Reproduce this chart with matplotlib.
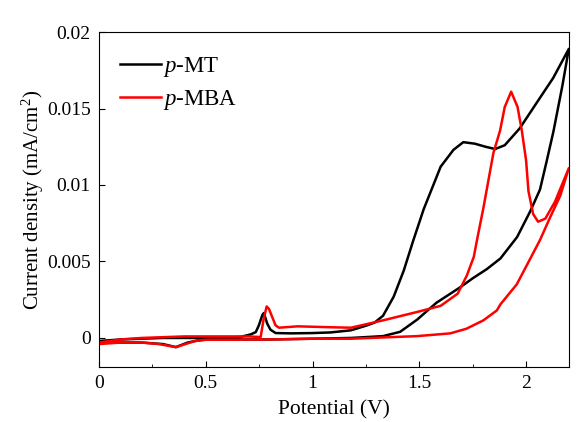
import matplotlib
matplotlib.use("Agg")
import matplotlib.pyplot as plt
from matplotlib.ticker import MultipleLocator, FuncFormatter

plt.rcParams["font.family"] = ["Liberation Serif", "DejaVu Serif"]
plt.rcParams["mathtext.fontset"] = "custom"
plt.rcParams["mathtext.rm"] = "Liberation Serif"
plt.rcParams["mathtext.it"] = "Liberation Serif:italic"

# p-MT, forward then reverse scan (potential V, current density mA/cm2)
mt_v = [0.0, 0.1, 0.2, 0.3, 0.4, 0.5, 0.6, 0.66, 0.71, 0.734, 0.748, 0.765, 0.772,
        0.788, 0.803, 0.827, 0.9, 1.0, 1.084, 1.18, 1.25, 1.29, 1.33, 1.38, 1.427,
        1.47, 1.52, 1.6, 1.66, 1.706, 1.76, 1.81, 1.855, 1.9, 1.97, 2.065, 2.127, 2.2,
        2.17, 2.128, 2.097, 2.065, 2.02, 1.958, 1.88, 1.816, 1.75, 1.69, 1.58, 1.49,
        1.41, 1.33, 1.18, 1.0, 0.8, 0.6, 0.5, 0.45, 0.415, 0.36, 0.3, 0.2, 0.1, 0.0]
mt_j = [-0.0002, -0.0001, -0.00005, 0.0, 0.0, 0.0, 0.00003, 0.00006, 0.00023, 0.00038,
        0.0008, 0.0015, 0.00163, 0.00093, 0.00054, 0.00032, 0.0003, 0.00032, 0.00036,
        0.0005, 0.0008, 0.001, 0.00145, 0.0027, 0.0044, 0.0063, 0.0084, 0.0112, 0.0123,
        0.0128, 0.0127, 0.0125, 0.01235, 0.0126, 0.0137, 0.0157, 0.017, 0.0189,
        0.0165, 0.0135, 0.0116, 0.0097, 0.0083, 0.0066, 0.0052, 0.0045, 0.0039, 0.0033,
        0.0023, 0.0012, 0.0004, 0.00012, 0.0, -0.00005, -0.0001, -0.0001, -0.0001,
        -0.0002, -0.0003, -0.0006, -0.0004, -0.0003, -0.0003, -0.0003]

# p-MBA, forward then reverse scan
mba_v = [0.0, 0.1, 0.2, 0.3, 0.4, 0.5, 0.6, 0.7, 0.757, 0.77, 0.785, 0.796, 0.811,
         0.827, 0.843, 0.93, 1.084, 1.18, 1.33, 1.49, 1.6, 1.68, 1.723, 1.755, 1.77,
         1.8, 1.847, 1.878, 1.9, 1.93, 1.96, 1.98, 2.0, 2.011, 2.033, 2.056, 2.09,
         2.135, 2.2,
         2.16, 2.113, 2.065, 1.99, 1.956, 1.88, 1.863, 1.8, 1.72, 1.645, 1.49, 1.18,
         1.0, 0.8, 0.5, 0.45, 0.36, 0.28, 0.2, 0.1, 0.0]
mba_j = [-0.0003, -0.0001, 0.0, 0.00005, 0.0001, 0.0001, 0.0001, 0.0001, 0.00006,
         0.00115, 0.00206, 0.0019, 0.00137, 0.00082, 0.00067, 0.00076, 0.0007, 0.00067,
         0.00115, 0.0017, 0.0021, 0.0029, 0.0041, 0.0053, 0.0064, 0.0085, 0.0121,
         0.01355, 0.0151, 0.0161, 0.0151, 0.01355, 0.0116, 0.0096, 0.0081, 0.0076,
         0.0078, 0.0089, 0.0111,
         0.0093, 0.0079, 0.0064, 0.0044, 0.0035, 0.0022, 0.0018, 0.00115, 0.0006,
         0.0003, 0.00012, -0.00005, -0.00005, -0.0001, -0.00012, -0.0002, -0.0006,
         -0.0004, -0.0003, -0.0003, -0.0004]

fig = plt.figure(figsize=(5.84, 4.22), dpi=100)
ax = fig.add_axes([0.1695, 0.1303, 0.8045, 0.7938])

ax.plot(mt_v, mt_j, color="black", lw=1.8, label="$p$-MT")
ax.plot(mba_v, mba_j, color="red", lw=1.8, label="$p$-MBA")

ax.set_xlim(0, 2.2)
ax.set_ylim(-0.0019, 0.02)
ax.xaxis.set_major_locator(MultipleLocator(0.5))
ax.xaxis.set_minor_locator(MultipleLocator(0.25))
ax.yaxis.set_major_locator(MultipleLocator(0.005))
ax.xaxis.set_major_formatter(FuncFormatter(lambda x, p: "%g" % round(x, 3)))
ax.yaxis.set_major_formatter(FuncFormatter(lambda y, p: "%g" % round(y, 4)))
ax.tick_params(which="both", direction="in", top=False, right=False,
               labelsize=14, pad=6)
ax.tick_params(which="major", length=4)
ax.tick_params(which="minor", length=2.5)

ax.set_xlabel("Potential (V)", fontsize=15.5, labelpad=6)
ax.set_ylabel("Current density (mA/cm$^2$)", fontsize=15, labelpad=1)

ax.legend(loc="upper left", bbox_to_anchor=(0.045, 0.93), frameon=False,
          fontsize=16.5, handlelength=1.8, handletextpad=0.05, labelspacing=0.38,
          borderaxespad=0, borderpad=0)

plt.savefig("out.png", dpi=100)
